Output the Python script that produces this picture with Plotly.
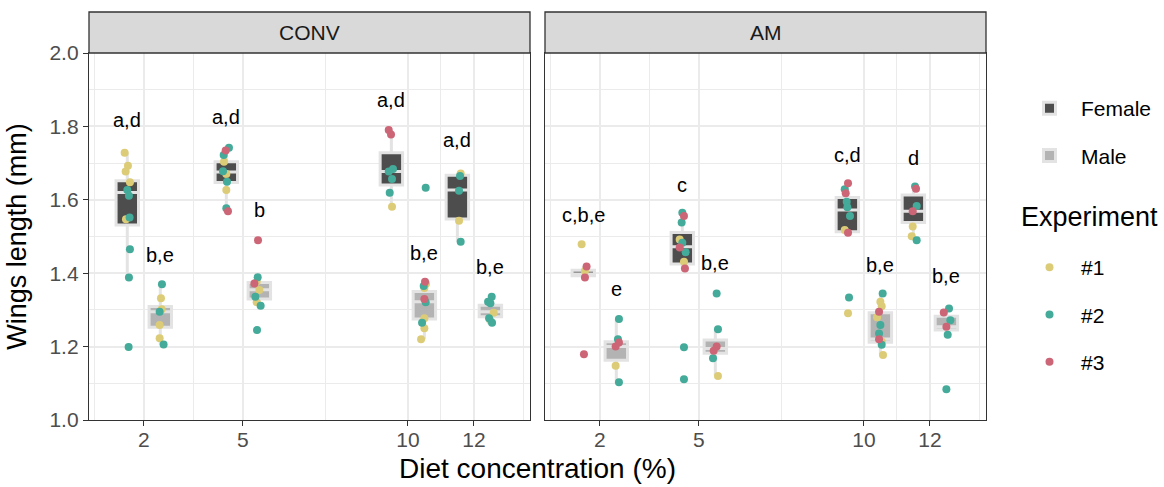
import plotly.graph_objects as go

# ---------------- data ----------------
panels = ["CONV", "AM"]
concentrations = [2, 5, 10, 12]
tick_labels = ["2", "5", "10", "12"]
experiments = ["#1", "#2", "#3"]
exp_colors = ["#DDCC77", "#44AA99", "#CC6677"]
sex_levels = ["Female", "Male"]
sex_fill = ["#4D4D4D", "#B3B3B3"]

# one entry per group (panel, concentration, sex)
grp_panel = ["CONV"] * 8 + ["AM"] * 8
grp_conc = [2, 2, 5, 5, 10, 10, 12, 12] * 2
grp_sex = ["Female", "Male"] * 8

grp_len = [
    [1.728, 1.693, 1.677, 1.648, 1.627, 1.611, 1.552, 1.547, 1.465, 1.388, 1.199],
    [1.370, 1.332, 1.302, 1.295, 1.259, 1.223, 1.206],
    [1.742, 1.734, 1.722, 1.704, 1.678, 1.670, 1.649, 1.627, 1.577, 1.569],
    [1.490, 1.389, 1.377, 1.372, 1.354, 1.336, 1.321, 1.311, 1.245],
    [1.790, 1.778, 1.684, 1.677, 1.657, 1.619, 1.581],
    [1.633, 1.377, 1.371, 1.365, 1.360, 1.330, 1.321, 1.277, 1.265, 1.250, 1.220],
    [1.672, 1.665, 1.625, 1.543, 1.486],
    [1.336, 1.322, 1.318, 1.292, 1.277, 1.271, 1.265],
    [1.479, 1.418, 1.406, 1.388, 1.179],
    [1.275, 1.220, 1.211, 1.200, 1.148, 1.103],
    [1.565, 1.556, 1.538, 1.492, 1.483, 1.470, 1.457, 1.431, 1.413, 1.198, 1.111],
    [1.345, 1.247, 1.200, 1.189, 1.168, 1.120],
    [1.645, 1.629, 1.618, 1.595, 1.580, 1.556, 1.518, 1.510, 1.334, 1.291],
    [1.345, 1.322, 1.310, 1.295, 1.280, 1.259, 1.236, 1.220, 1.214, 1.205, 1.177],
    [1.636, 1.630, 1.583, 1.569, 1.527, 1.501, 1.490],
    [1.304, 1.293, 1.272, 1.254, 1.232, 1.084],
]
grp_exp = [
    [1, 1, 1, 1, 2, 2, 2, 1, 2, 2, 2],
    [2, 1, 1, 2, 1, 1, 2],
    [2, 3, 2, 1, 2, 1, 2, 1, 2, 3],
    [3, 2, 1, 3, 1, 2, 1, 2, 2],
    [3, 3, 2, 2, 2, 2, 1],
    [2, 3, 1, 2, 1, 3, 2, 1, 2, 1, 1],
    [1, 2, 2, 1, 2],
    [2, 2, 2, 1, 2, 1, 2],
    [1, 3, 1, 3, 3],
    [2, 2, 3, 3, 1, 2],
    [2, 3, 2, 1, 2, 3, 2, 1, 3, 2, 2],
    [2, 2, 3, 3, 2, 1],
    [3, 2, 3, 2, 2, 2, 1, 3, 2, 1],
    [2, 1, 1, 3, 1, 2, 2, 3, 1, 2, 1],
    [2, 3, 2, 3, 1, 1, 2],
    [2, 3, 2, 3, 2, 2],
]
grp_jit = [
    [-0.08, 0.02, -0.05, 0.08, 0, 0.05, 0.07, -0.04, 0.08, 0.05, 0.04],
    [0.05, 0.02, 0.04, -0.02, -0.02, -0.02, 0.1],
    [0.08, -0.02, -0.08, -0.07, -0.1, 0, 0.02, 0, 0, 0.05],
    [-0.04, -0.05, -0.08, -0.15, 0, -0.12, -0.08, 0.04, -0.07],
    [-0.08, -0.01, 0.05, -0.08, 0.02, -0.05, 0.02],
    [0.04, 0.02, 0.05, -0.02, 0, 0, 0.04, 0, -0.07, 0, -0.1],
    [0.1, 0.08, 0.05, 0.05, 0.1],
    [0.04, -0.07, 0, 0.1, -0.04, 0, 0.05],
    [-0.05, 0.1, 0.05, 0.05, 0.02],
    [0.08, 0.05, 0.08, -0.02, -0.02, 0.08],
    [0, 0.05, -0.02, -0.08, 0, -0.08, 0.1, 0.05, 0.08, 0.05, 0.05],
    [0.04, 0.08, 0.04, -0.05, -0.07, 0.08],
    [0.02, -0.08, -0.05, -0.02, 0, 0.08, -0.08, 0.02, 0.05, 0.02],
    [0.07, 0, 0.04, -0.04, -0.1, 0, -0.04, -0.04, 0.04, 0.04, 0.08],
    [0.05, 0.08, 0.1, -0.02, -0.02, -0.05, 0.1],
    [0.08, -0.08, 0.12, 0, 0.04, 0],
]

# box statistics per group
box_q1 = [1.531, 1.253, 1.647, 1.330, 1.640, 1.275, 1.548, 1.281,
          1.393, 1.163, 1.425, 1.182, 1.513, 1.212, 1.538, 1.245]
box_med = [1.620, 1.295, 1.676, 1.355, 1.677, 1.322, 1.627, 1.295,
           1.398, 1.200, 1.472, 1.195, 1.572, 1.221, 1.569, 1.254]
box_q3 = [1.652, 1.309, 1.704, 1.375, 1.728, 1.350, 1.667, 1.313,
          1.408, 1.213, 1.511, 1.218, 1.606, 1.292, 1.613, 1.283]
box_lo = [1.388, 1.206, 1.569, 1.311, 1.581, 1.220, 1.486, 1.265,
          1.388, 1.103, 1.413, 1.120, 1.510, 1.177, 1.490, 1.232]
box_hi = [1.728, 1.370, 1.742, 1.389, 1.790, 1.377, 1.672, 1.336,
          1.418, 1.275, 1.565, 1.247, 1.645, 1.345, 1.636, 1.304]

# significance letters per group
lab_text = ["a,d", "b,e", "a,d", "b", "a,d", "b,e", "a,d", "b,e",
            "c,b,e", "e", "c", "b,e", "c,d", "b,e", "d", "b,e"]
lab_y = [1.817, 1.450, 1.826, 1.572, 1.872, 1.455, 1.763, 1.417,
         1.559, 1.357, 1.640, 1.428, 1.722, 1.422, 1.714, 1.392]

# ---------------- figure ----------------
DODGE = 0.5
axis_of = {"CONV": ("x", "y"), "AM": ("x2", "y2")}
FONT = "Liberation Sans, Arial, Helvetica, sans-serif"

fig = go.Figure()

# boxes
for p in panels:
    xa, ya = axis_of[p]
    for si, s in enumerate(sex_levels):
        idx = [i for i in range(len(grp_panel)) if grp_panel[i] == p and grp_sex[i] == s]
        off = -DODGE if s == "Female" else DODGE
        fig.add_trace(go.Box(
            x=[grp_conc[i] + off for i in idx],
            q1=[box_q1[i] for i in idx],
            median=[box_med[i] for i in idx],
            q3=[box_q3[i] for i in idx],
            lowerfence=[box_lo[i] for i in idx],
            upperfence=[box_hi[i] for i in idx],
            boxpoints=False,
            width=0.68,
            whiskerwidth=0,
            fillcolor=sex_fill[si],
            line=dict(color="#E3E3E3", width=3),
            name=s,
            legend="legend",
            legendgroup="sex" + s,
            showlegend=(p == "CONV"),
            xaxis=xa, yaxis=ya,
            hoverinfo="skip",
        ))

# jittered points
for p in panels:
    xa, ya = axis_of[p]
    for ei, e in enumerate(experiments):
        xs, ys = [], []
        for i in range(len(grp_panel)):
            if grp_panel[i] != p:
                continue
            off = -DODGE if grp_sex[i] == "Female" else DODGE
            for v, ex, j in zip(grp_len[i], grp_exp[i], grp_jit[i]):
                if ex == ei + 1:
                    xs.append(grp_conc[i] + off + j)
                    ys.append(v)
        fig.add_trace(go.Scatter(
            x=xs, y=ys, mode="markers",
            marker=dict(color=exp_colors[ei], size=8, line=dict(width=0)),
            name=e,
            legend="legend2",
            legendgroup="exp" + e,
            showlegend=(p == "CONV"),
            xaxis=xa, yaxis=ya,
            hoverinfo="skip",
        ))

# letters
for i in range(len(grp_panel)):
    xa, ya = axis_of[grp_panel[i]]
    off = -DODGE if grp_sex[i] == "Female" else DODGE
    fig.add_annotation(
        x=grp_conc[i] + off, y=lab_y[i], xref=xa, yref=ya,
        text=lab_text[i], showarrow=False,
        xanchor="center", yanchor="middle",
        font=dict(family=FONT, size=20, color="#000000"),
    )

# layout geometry (pixels)
W, H = 1164, 487
L, R, T, B = 89, 178, 53, 67
plot_w = W - L - R
plot_h = H - T - B
gap = 15
d1 = ((plot_w - gap) / 2) / plot_w
d2 = 1 - d1
strip_h = 41 / plot_h

xcommon = dict(
    range=[0.34, 13.7],
    tickvals=concentrations, ticktext=tick_labels,
    showgrid=True, gridcolor="#EBEBEB", gridwidth=1.6,
    minor=dict(tickvals=[0.5, 3.5, 7.5, 11, 13.5], showgrid=True,
               gridcolor="#EBEBEB", gridwidth=0.8, ticks=""),
    ticks="outside", ticklen=5, tickwidth=1.1, tickcolor="#333333",
    ticklabelstandoff=-4,
    tickfont=dict(family=FONT, size=21, color="#4D4D4D"),
    showline=True, mirror=True, linecolor="#333333", linewidth=1.3,
    zeroline=False,
)
ycommon = dict(
    range=[1.0, 2.0],
    tickvals=[1.0, 1.2, 1.4, 1.6, 1.8, 2.0],
    ticktext=["1.0", "1.2", "1.4", "1.6", "1.8", "2.0"],
    showgrid=True, gridcolor="#EBEBEB", gridwidth=1.6,
    minor=dict(tickvals=[1.1, 1.3, 1.5, 1.7, 1.9], showgrid=True,
               gridcolor="#EBEBEB", gridwidth=0.8, ticks=""),
    showline=True, mirror=True, linecolor="#333333", linewidth=1.3,
    zeroline=False,
)

def py(px):
    """pixel row -> paper y"""
    return (H - B - px) / plot_h

def pxx(px):
    """pixel column -> paper x"""
    return (px - L) / plot_w

fig.update_layout(
    width=W, height=H,
    margin=dict(l=L, r=R, t=T, b=B, autoexpand=False),
    paper_bgcolor="white", plot_bgcolor="white",
    font=dict(family=FONT, color="#000000"),
    xaxis=dict(domain=[0, d1], anchor="y", **xcommon),
    xaxis2=dict(domain=[d2, 1], anchor="y2", **xcommon),
    yaxis=dict(anchor="x", ticks="outside", ticklen=5, tickwidth=1.1,
               tickcolor="#333333",
               tickfont=dict(family=FONT, size=21, color="#4D4D4D"),
               title=dict(text="Wings length (mm)", standoff=14,
                          font=dict(family=FONT, size=27, color="#000000")),
               **ycommon),
    yaxis2=dict(anchor="x2", matches="y", showticklabels=False, ticks="",
                **ycommon),
    legend=dict(x=pxx(1018), y=py(88), xanchor="left", yanchor="top",
                font=dict(family=FONT, size=21, color="#000000"),
                tracegroupgap=17, itemwidth=53, bgcolor="rgba(0,0,0,0)"),
    legend2=dict(x=pxx(1018), y=py(247), xanchor="left", yanchor="top",
                 font=dict(family=FONT, size=21, color="#000000"),
                 tracegroupgap=17, itemwidth=53, bgcolor="rgba(0,0,0,0)"),
    showlegend=True,
)

# legend title for experiments
fig.add_annotation(xref="paper", yref="paper", x=pxx(1019), y=py(217),
                   xanchor="left", yanchor="middle", text="Experiment",
                   showarrow=False,
                   font=dict(family=FONT, size=27, color="#000000"))

# facet strips
for k, (p, dom) in enumerate(zip(panels, [[0, d1], [d2, 1]])):
    fig.add_shape(type="rect", xref="paper", yref="paper",
                  x0=dom[0], x1=dom[1], y0=1, y1=1 + strip_h,
                  fillcolor="#D9D9D9", line=dict(color="#333333", width=1.3),
                  layer="above")
    fig.add_annotation(xref="paper", yref="paper",
                       x=(dom[0] + dom[1]) / 2, y=1 + strip_h / 2,
                       xanchor="center", yanchor="middle",
                       text=p, showarrow=False,
                       font=dict(family=FONT, size=21, color="#1A1A1A"))

# shared x title
fig.add_annotation(xref="paper", yref="paper", x=0.5, y=py(468),
                   text="Diet concentration (%)", showarrow=False,
                   xanchor="center", yanchor="middle",
                   font=dict(family=FONT, size=28, color="#000000"))

fig.write_html("out.html", config={"displayModeBar": False},
               post_script="document.body.style.margin='0';")
